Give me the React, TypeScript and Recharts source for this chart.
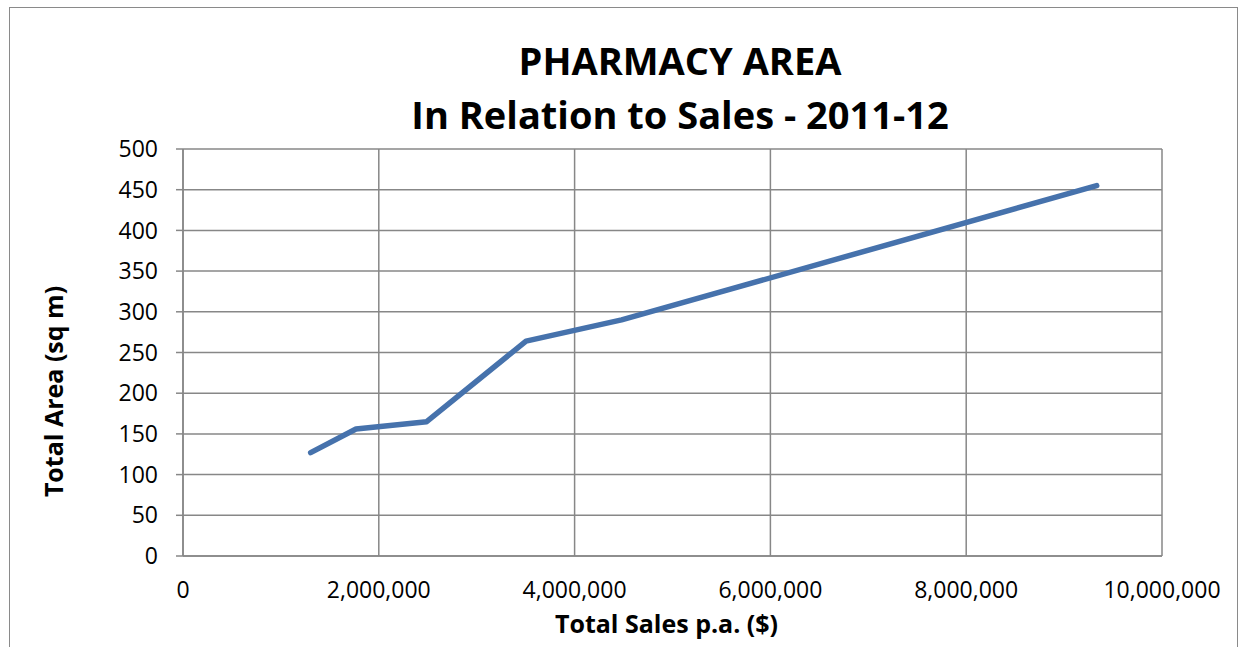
import React from 'react';
import { LineChart, Line, XAxis, YAxis, CartesianGrid, Label } from 'recharts';

// values
const totalSales = [1304000, 1767000, 2489000, 3504000, 4480000, 9333000];
const totalArea = [127, 156, 165, 264, 290, 455];
const salesTicks = [0, 2000000, 4000000, 6000000, 8000000, 10000000];
const areaTicks = [0, 50, 100, 150, 200, 250, 300, 350, 400, 450, 500];

const chartData = totalSales.map((sales, i) => ({ sales, area: totalArea[i] }));

const FONT = '"Open Sans", sans-serif';
const GRID = '#878787';

const YTitle = ({ viewBox }: any) => {
  const cy = viewBox.y + viewBox.height / 2 + 39;
  return (
    <text x={63} y={cy} transform={`rotate(-90, 63, ${cy})`} textAnchor="middle"
      fontFamily={FONT} fontWeight={700} fontSize={25} fill="#000">
      Total Area (sq m)
    </text>
  );
};

const XTitle = ({ viewBox }: any) => (
  <text x={viewBox.x + viewBox.width / 2 - 6} y={633} textAnchor="middle"
    fontFamily={FONT} fontWeight={700} fontSize={25} fill="#000">
    Total Sales p.a. ($)
  </text>
);

const App: React.FC = () => {
  return (
    <div style={{ position: 'absolute', left: 0, top: 0, width: 1240, height: 647, overflow: 'hidden', background: '#fff' }}>
      <div style={{ position: 'absolute', left: 9, top: 7, width: 1229, height: 700, border: '1.5px solid #8a8a8a', boxSizing: 'border-box' }} />
      <div style={{ position: 'absolute', left: 0, top: 33, width: 1360, textAlign: 'center', fontFamily: FONT, fontWeight: 700, fontSize: 38, lineHeight: '54px', color: '#000' }}>
        PHARMACY AREA<br />In Relation to Sales - 2011-12
      </div>
      <div style={{ position: 'absolute', left: 0, top: 0 }}>
        <LineChart width={1240} height={647} data={chartData} margin={{ top: 149, right: 78, bottom: 0, left: 63 }}>
          <CartesianGrid stroke={GRID} strokeWidth={1.5} horizontalValues={areaTicks} verticalValues={salesTicks} />
          <XAxis dataKey="sales" type="number" domain={[0, 10000000]} ticks={salesTicks}
            tickFormatter={(v: number) => v.toLocaleString('en-US')}
            tick={{ fontFamily: FONT, fontSize: 23, fill: '#000' }}
            axisLine={{ stroke: GRID, strokeWidth: 1.5 }} tickLine={false} tickSize={0} tickMargin={26} height={91}>
            <Label content={<XTitle />} />
          </XAxis>
          <YAxis type="number" domain={[0, 500]} ticks={areaTicks} width={120}
            tick={{ fontFamily: FONT, fontSize: 23, fill: '#000' }}
            axisLine={{ stroke: GRID, strokeWidth: 1.5 }} tickLine={{ stroke: GRID, strokeWidth: 1.5 }} tickSize={7} tickMargin={18}>
            <Label content={<YTitle />} />
          </YAxis>
          <Line dataKey="area" type="linear" stroke="#4672AC" strokeWidth={5.5} strokeLinecap="round" strokeLinejoin="round" dot={false} isAnimationActive={false} />
        </LineChart>
      </div>
    </div>
  );
};

export default App;
